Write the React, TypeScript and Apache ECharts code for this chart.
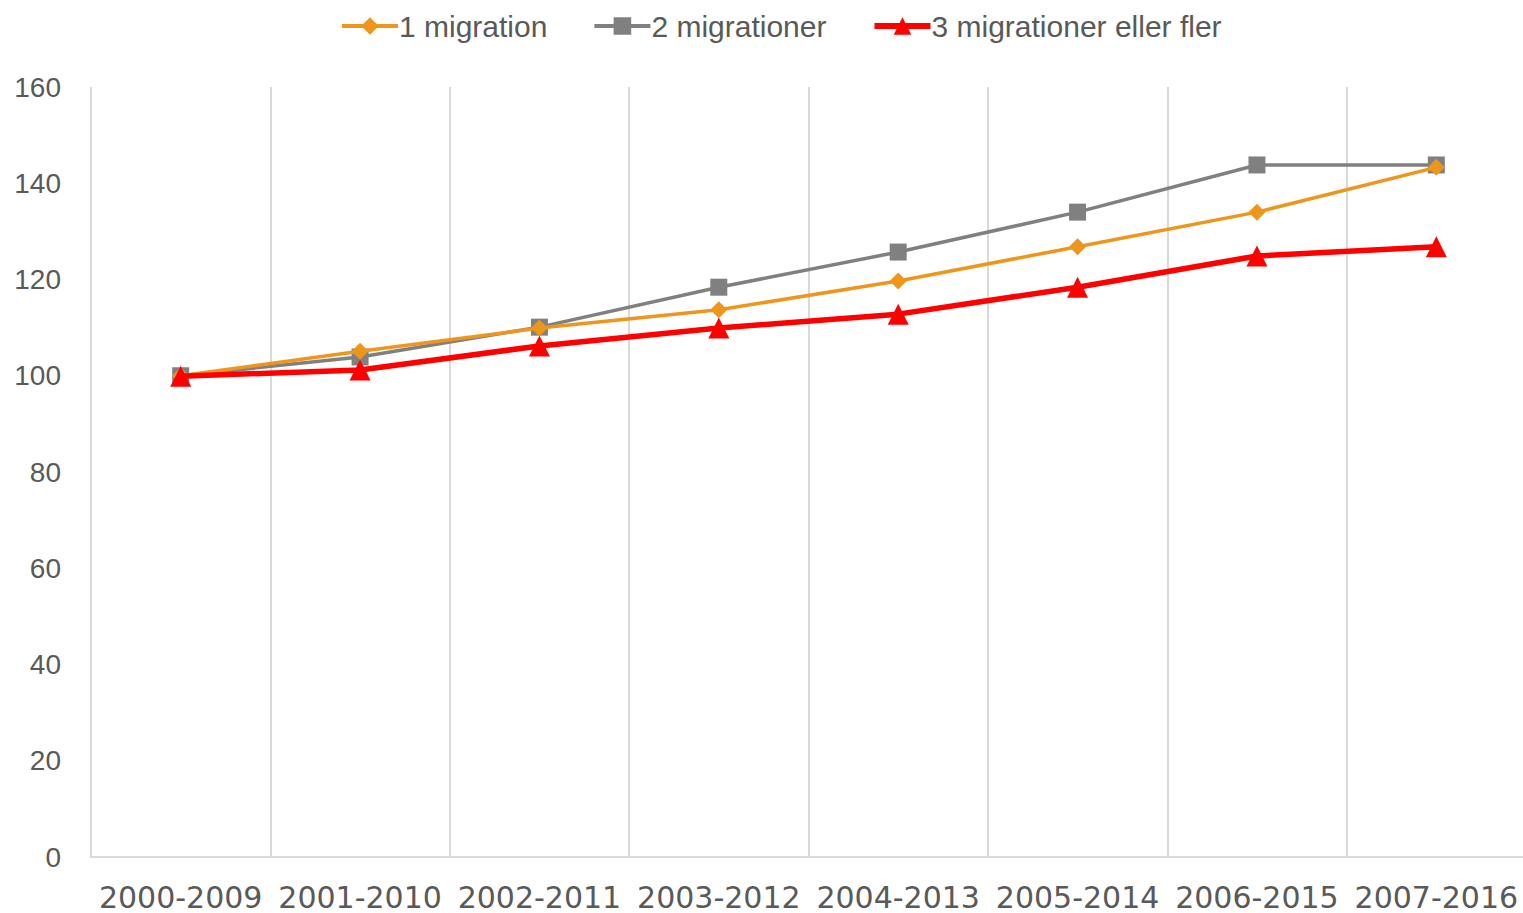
import React, { useEffect, useRef } from "react";
import * as echarts from "echarts";

const categories = ["2000-2009", "2001-2010", "2002-2011", "2003-2012", "2004-2013", "2005-2014", "2006-2015", "2007-2016"];
const oneMigration = [100, 105.1, 109.9, 113.7, 119.7, 126.8, 134.0, 143.3];
const twoMigrations = [100, 103.9, 110.1, 118.4, 125.7, 134.0, 143.8, 143.8];
const threeOrMore = [99.9, 101.2, 106.2, 109.9, 112.8, 118.4, 124.9, 126.8];
const seriesNames = ["1 migration", "2 migrationer", "3 migrationer eller fler"];
const colors = ["#EE961B", "#808080", "#FF0000"];
const widths = [3.5, 3.5, 5.5];

export default function App() {
  const ref = useRef<HTMLDivElement>(null);
  useEffect(() => {
    document.body.style.margin = "0";
    document.body.style.overflow = "hidden";
    const chart = echarts.init(ref.current!, null, { renderer: "svg" });
    const font = "Liberation Sans";
    chart.setOption({
      animation: false,
      backgroundColor: "#ffffff",
      legend: {
        top: 6,
        left: 335,
        itemWidth: 56,
        itemHeight: 22,
        itemGap: 45,
        textStyle: { fontSize: 30, color: "#595959", fontFamily: font, padding: [0, 0, 0, -4] },
        data: seriesNames.map((n, i) => ({ name: n, lineStyle: { width: widths[i] + 0.5, color: colors[i] } })),
      },
      grid: { left: 91, right: 4, top: 87, bottom: 56, containLabel: false },
      xAxis: {
        type: "category",
        data: categories,
        boundaryGap: true,
        axisLine: { show: true, lineStyle: { color: "#D9D9D9", width: 2 } },
        axisTick: { show: false },
        splitLine: { show: true, lineStyle: { color: "#D9D9D9", width: 2 } },
        axisLabel: { fontSize: 30, lineHeight: 30, color: "#595959", fontFamily: "DejaVu Sans", margin: 25, interval: 0 },
      },
      yAxis: {
        type: "value",
        min: 0,
        max: 160,
        interval: 20,
        axisLine: { show: false },
        axisTick: { show: false },
        splitLine: { show: false },
        axisLabel: { fontSize: 28, color: "#595959", fontFamily: font, margin: 30 },
      },
      series: [
        {
          name: seriesNames[0],
          type: "line",
          data: oneMigration,
          symbol: "diamond",
          symbolSize: 17,
          itemStyle: { color: colors[0] },
          lineStyle: { color: colors[0], width: widths[0] },
          z: 3,
        },
        {
          name: seriesNames[1],
          type: "line",
          data: twoMigrations,
          symbol: "rect",
          symbolSize: 17,
          itemStyle: { color: colors[1] },
          lineStyle: { color: colors[1], width: widths[1] },
          z: 2,
        },
        {
          name: seriesNames[2],
          type: "line",
          data: threeOrMore,
          symbol: "triangle",
          symbolSize: 21,
          itemStyle: { color: colors[2] },
          lineStyle: { color: colors[2], width: widths[2] },
          z: 4,
        },
      ],
    });
    return () => chart.dispose();
  }, []);
  return <div ref={ref} style={{ width: 1530, height: 913 }} />;
}
